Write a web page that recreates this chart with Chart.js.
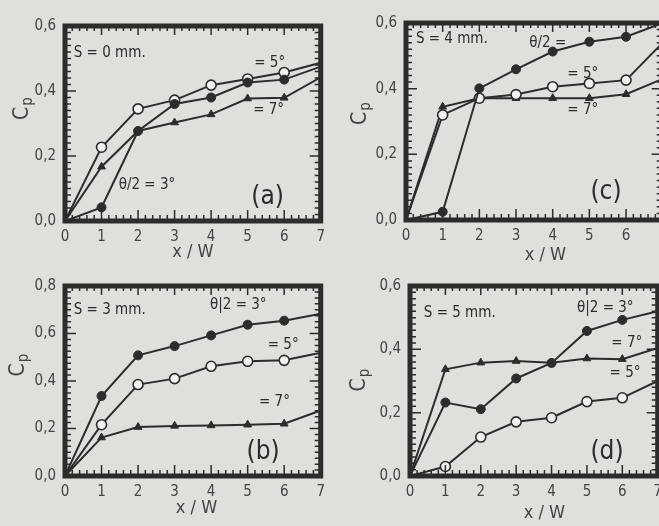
<!DOCTYPE html>
<html>
<head>
<meta charset="utf-8">
<script src="https://cdn.jsdelivr.net/npm/chart.js@4"></script>
<style>
    html, body { margin: 0; padding: 0; background: #dfdfdb; width: 659px; height: 526px; overflow: hidden; position: relative; }
    canvas { position: absolute; }
</style>
</head>
<body>
<canvas id="pa"></canvas>
<canvas id="pb"></canvas>
<canvas id="pc"></canvas>
<canvas id="pd"></canvas>
<script>
// x / W stations
const xW = [0, 1, 2, 3, 4, 5, 6, 7];

// (a) S = 0 mm
const a3 = [0, 0.042, 0.277, 0.360, 0.380, 0.426, 0.435, 0.475];
const a5 = [0, 0.227, 0.345, 0.372, 0.418, 0.437, 0.457, 0.487];
const a7 = [0, 0.167, 0.277, 0.303, 0.328, 0.377, 0.379, 0.442];

// (b) S = 3 mm
const b3 = [0, 0.337, 0.508, 0.547, 0.592, 0.637, 0.654, 0.683];
const b5 = [0, 0.216, 0.385, 0.410, 0.462, 0.483, 0.487, 0.519];
const b7 = [0, 0.162, 0.206, 0.211, 0.213, 0.216, 0.220, 0.276];

// (c) S = 4 mm
const c3 = [0, 0.025, 0.401, 0.459, 0.513, 0.543, 0.558, 0.600];
const c5 = [0, 0.320, 0.371, 0.382, 0.406, 0.416, 0.426, 0.540];
const c7 = [0, 0.345, 0.371, 0.371, 0.371, 0.371, 0.383, 0.430];

// (d) S = 5 mm
const d3 = [0, 0.232, 0.211, 0.308, 0.357, 0.458, 0.493, 0.520];
const d5 = [0, 0.030, 0.123, 0.171, 0.184, 0.235, 0.247, 0.300];
const d7 = [0, 0.337, 0.358, 0.363, 0.358, 0.371, 0.369, 0.404];

const INK = "#2c2c2c";
const LABEL = "#444";
const PAPER = "#f1f1ee";
const FONT = '"DejaVu Sans Condensed", "DejaVu Sans", sans-serif';

// ---------------- frame, inside ticks, labels ----------------
const framePlugin = {
    id: "frame",
    afterDatasetsDraw(chart, args, opts) {
        const { ctx, chartArea: ca, scales: { x, y } } = chart;
        ctx.save();
        ctx.strokeStyle = INK;

        // minor / major ticks pointing inward on all four sides
        ctx.lineWidth = 1.5;
        ctx.beginPath();
        for (let i = 0; i <= 35; i++) {
            const px = x.getPixelForValue(i / 5);
            const major = i % 5 === 0;
            ctx.moveTo(px, ca.bottom);
            ctx.lineTo(px, ca.bottom - (major ? 11 : 6));
            ctx.moveTo(px, ca.top);
            ctx.lineTo(px, ca.top + (major ? 9 : 5));
        }
        const n = Math.round(y.max / opts.minor);
        for (let j = 0; j <= n; j++) {
            const v = j * opts.minor;
            const py = y.getPixelForValue(v);
            const major = Math.abs(v / 0.2 - Math.round(v / 0.2)) < 1e-6;
            ctx.moveTo(ca.left, py);
            ctx.lineTo(ca.left + (major ? 11 : 6), py);
            ctx.moveTo(ca.right, py);
            ctx.lineTo(ca.right - (major ? 11 : 6), py);
        }
        ctx.stroke();

        ctx.lineWidth = 5;
        ctx.strokeRect(ca.left, ca.top, ca.width, ca.height);

        // notes inside the plot
        ctx.fillStyle = INK;
        ctx.textBaseline = "middle";
        ctx.textAlign = "left";
        opts.notes.forEach(n => {
            ctx.font = `${n[3] || 15}px ${FONT}`;
            ctx.fillText(n[0], x.getPixelForValue(n[1]), y.getPixelForValue(n[2]));
        });

        // y title C_p
        ctx.fillStyle = LABEL;
        const cy = (ca.top + ca.bottom) / 2 + opts.cpOff[1];
        ctx.translate(ca.left + opts.cpOff[0], cy);
        ctx.rotate(-Math.PI / 2);
        ctx.textAlign = "center";
        ctx.font = `21px ${FONT}`;
        ctx.fillText("C", -4, 0);
        ctx.font = `15px ${FONT}`;
        ctx.fillText("p", 8, 5);
        ctx.setTransform(1, 0, 0, 1, 0, 0);

        // x title
        ctx.textAlign = "center";
        ctx.font = `18px ${FONT}`;
        ctx.fillText("x / W", x.getPixelForValue(opts.xTitle[0]), ca.bottom + opts.xTitle[1]);
        ctx.restore();
    }
};

function line(data, kind) {
    return {
        data: xW.map((v, i) => ({ x: v, y: data[i] })),
        borderColor: INK,
        borderWidth: 2,
        tension: 0,
        pointStyle: kind === "tri" ? "triangle" : "circle",
        pointRadius: ctx => (ctx.dataIndex === 0 || ctx.dataIndex === 7) ? 0 : (kind === "open" ? 5 : 4.5),
        pointBackgroundColor: kind === "open" ? PAPER : INK,
        pointBorderColor: INK,
        pointBorderWidth: kind === "open" ? 1.6 : 1
    };
}

function panel(id, box, yMax, minor, sets, notes, xTitle, cpOff) {
    const [L, T, R, B] = box;
    const cv = document.getElementById(id);
    const padT = 26, yW = 65, xH = 50, padR = 6;
    cv.width = (R - L) + yW + padR;
    cv.height = (B - T) + padT + xH;
    cv.style.left = (L - yW) + "px";
    cv.style.top = (T - padT) + "px";

    new Chart(cv, {
        type: "line",
        data: { datasets: sets },
        options: {
            responsive: false,
            animation: false,
            layout: { padding: { left: 0, top: padT, right: padR, bottom: 0 } },
            plugins: {
                legend: { display: false },
                tooltip: { enabled: false },
                frame: { minor: minor, notes: notes, xTitle: xTitle, cpOff: cpOff }
            },
            scales: {
                x: {
                    type: "linear", min: 0, max: 7,
                    grid: { display: false, drawTicks: false },
                    border: { display: false },
                    ticks: { stepSize: 1, padding: 7, color: LABEL, font: { family: FONT, size: 15 } },
                    afterFit: s => { s.height = xH; }
                },
                y: {
                    min: 0, max: yMax,
                    grid: { display: false, drawTicks: false },
                    border: { display: false },
                    ticks: {
                        stepSize: 0.2, padding: 9, color: LABEL,
                        font: { family: FONT, size: 15 },
                        callback: v => v.toFixed(1).replace(".", ",")
                    },
                    afterFit: s => { s.width = yW; }
                }
            }
        },
        plugins: [framePlugin]
    });
}

panel("pa", [65, 26, 326, 221], 0.6, 0.02,
    [line(a3, "fill"), line(a5, "open"), line(a7, "tri")],
    [["S = 0 mm.", 0.24, 0.517], ["= 5°", 5.18, 0.486], ["= 7°", 5.15, 0.342],
     ["θ/2 = 3°", 1.47, 0.111], ["(a)", 5.1, 0.074, 26]],
    [3.5, 31], [-42, -14]);

panel("pb", [65, 286, 326, 476], 0.8, 0.025,
    [line(b3, "fill"), line(b5, "open"), line(b7, "tri")],
    [["S = 3 mm.", 0.24, 0.70], ["θ|2 = 3°", 3.97, 0.72], ["= 5°", 5.55, 0.55],
     ["= 7°", 5.31, 0.31], ["(b)", 4.97, 0.10, 26]],
    [3.6, 32], [-46, -15]);

panel("pc", [406, 23, 668, 220], 0.6, 0.02,
    [line(c3, "fill"), line(c5, "open"), line(c7, "tri")],
    [["S = 4 mm.", 0.27, 0.55], ["θ/2 =", 3.36, 0.54], ["= 5°", 4.4, 0.445],
     ["= 7°", 4.4, 0.335], ["(c)", 5.03, 0.085, 26]],
    [3.8, 35], [-45, -7]);

panel("pd", [410, 286, 663, 476], 0.6, 0.02,
    [line(d3, "fill"), line(d5, "open"), line(d7, "tri")],
    [["S = 5 mm.", 0.39, 0.515], ["θ|2 = 3°", 4.72, 0.53], ["= 7°", 5.69, 0.42],
     ["= 5°", 5.64, 0.325], ["(d)", 5.1, 0.076, 26]],
    [3.8, 37], [-50, 0]);
</script>
</body>
</html>
